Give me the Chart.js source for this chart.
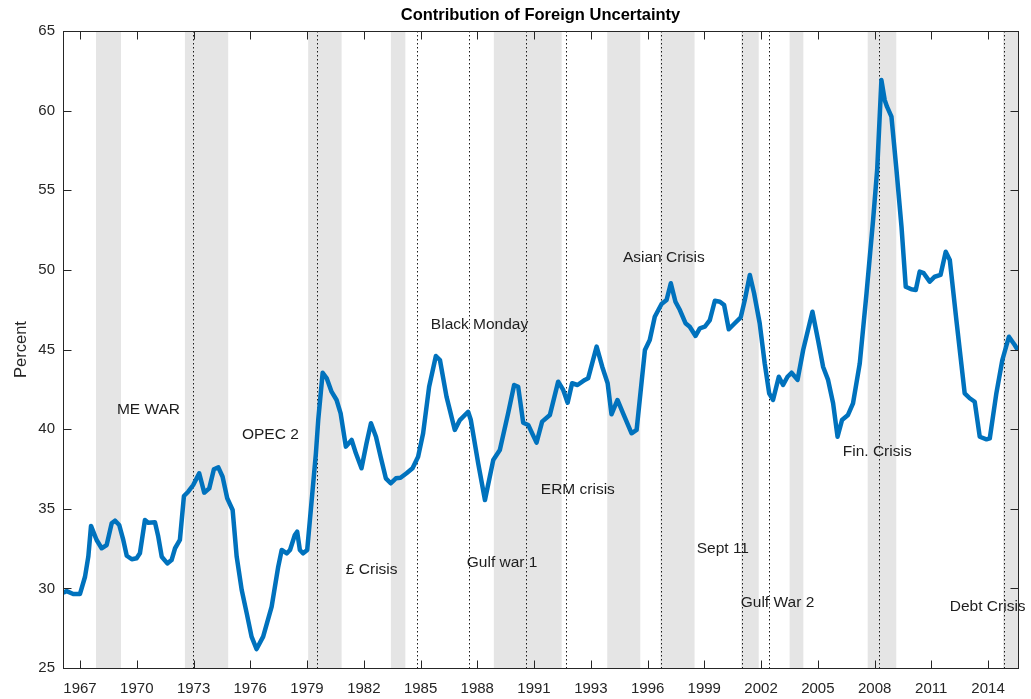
<!DOCTYPE html>
<html>
<head>
<meta charset="utf-8">
<script src="https://cdn.jsdelivr.net/npm/chart.js@4"></script>
<style>
html,body{margin:0;padding:0;background:#fff;}
#wrap{width:1031px;height:699px;}
</style>
</head>
<body>
<div id="wrap"><canvas id="c" width="1031" height="699"></canvas></div>
<script>
// ---- data ----
const years = [1966.64,1966.81,1967.15,1967.50,1967.76,1967.93,1968.07,1968.36,1968.62,1968.88,
1969.14,1969.31,1969.53,1969.74,1969.92,1970.18,1970.43,1970.60,1970.86,1971.03,
1971.38,1971.55,1971.73,1972.02,1972.24,1972.42,1972.67,1972.88,1973.10,1973.36,
1973.67,1973.93,1974.19,1974.43,1974.66,1974.88,1975.12,1975.40,1975.61,1975.87,
1976.13,1976.38,1976.64,1976.98,1977.42,1977.76,1977.94,1978.20,1978.37,1978.62,
1978.74,1978.88,1979.05,1979.26,1979.40,1979.71,1979.83,1980.06,1980.27,1980.52,
1980.78,1980.99,1981.26,1981.56,1981.78,1982.07,1982.33,1982.56,1982.82,1983.06,
1983.33,1983.58,1983.85,1984.09,1984.40,1984.71,1985.00,1985.26,1985.57,1985.92,
1986.13,1986.47,1986.90,1987.16,1987.59,1987.73,1988.11,1988.46,1988.89,1989.23,
1989.66,1989.97,1990.18,1990.44,1990.70,1991.13,1991.42,1991.82,1992.25,1992.51,
1992.74,1992.97,1993.25,1993.63,1993.80,1994.24,1994.53,1994.81,1995.01,1995.32,
1995.61,1996.05,1996.31,1996.74,1996.99,1997.25,1997.60,1997.86,1998.08,1998.32,
1998.55,1998.84,1999.06,1999.36,1999.58,1999.84,2000.10,2000.36,2000.62,2000.84,
2001.08,2001.39,2001.70,2001.91,2002.17,2002.39,2002.68,2002.94,2003.17,2003.37,
2003.67,2003.89,2004.12,2004.33,2004.64,2004.93,2005.41,2005.70,2005.96,2006.22,
2006.48,2006.71,2006.94,2007.25,2007.51,2007.86,2008.21,2008.55,2008.76,2008.98,
2009.15,2009.27,2009.50,2009.76,2010.02,2010.24,2010.53,2010.76,2010.96,2011.17,
2011.48,2011.74,2012.04,2012.31,2012.52,2012.86,2013.29,2013.55,2013.81,2014.07,
2014.42,2014.59,2014.93,2015.24,2015.58,2015.88,2016.04];

const foreignShare = [29.73,29.83,29.65,29.65,30.73,31.99,33.92,33.04,32.52,32.72,
34.09,34.25,33.98,33.04,32.05,31.83,31.89,32.20,34.29,34.12,
34.15,33.25,31.99,31.57,31.78,32.52,33.04,35.80,36.07,36.49,
37.23,36.01,36.28,37.48,37.60,37.01,35.66,34.92,31.99,29.90,
28.43,26.97,26.19,26.97,28.85,31.36,32.41,32.20,32.41,33.35,
33.56,32.41,32.20,32.41,34.29,38.48,40.57,43.54,43.19,42.35,
41.83,40.99,38.90,39.32,38.48,37.54,39.11,40.37,39.52,38.27,
36.91,36.60,36.91,36.95,37.23,37.54,38.27,39.74,42.66,44.59,
44.34,42.04,39.95,40.57,41.09,40.57,37.85,35.55,38.06,38.69,
40.99,42.77,42.66,40.40,40.26,39.15,40.47,40.89,42.98,42.46,
41.66,42.88,42.77,43.09,43.19,45.18,43.92,42.88,40.93,41.83,
40.99,39.74,39.95,44.97,45.60,47.06,47.86,48.11,49.16,48.00,
47.48,46.65,46.43,45.85,46.33,46.43,46.85,48.06,48.00,47.79,
46.27,46.65,47.02,48.11,49.68,48.53,46.65,44.13,42.25,41.83,
43.29,42.77,43.29,43.54,43.09,44.97,47.37,45.60,43.92,43.09,
41.62,39.52,40.57,40.89,41.62,44.13,48.53,53.13,56.27,61.92,
60.67,60.25,59.62,56.27,52.71,48.94,48.78,48.74,49.89,49.79,
49.26,49.57,49.68,51.14,50.62,46.85,42.25,41.94,41.72,39.52,
39.36,39.42,42.25,44.34,45.80,45.28,44.97];

const tickPos    = [1967.5,1970.44,1973.38,1976.31,1979.25,1982.19,1985.13,1988.06,1991.0,1993.94,1996.88,1999.81,2002.75,2005.69,2008.63,2011.56,2014.5];
const tickLabels = ['1967','1970','1973','1976','1979','1982','1985','1988','1991','1993','1996','1999','2002','2005','2008','2011','2014'];

const bandStart = [1968.33,1972.93,1979.31,1983.59,1988.92,1994.79,1997.54,2001.73,2004.23,2008.27,2015.28];
const bandEnd   = [1969.62,1975.17,1981.04,1984.34,1992.43,1996.50,1999.31,2002.63,2004.94,2009.75,2016.05];

const eventDates = [1973.36,1979.75,1984.95,1987.64,1990.61,1992.68,1997.55,2001.79,2003.15,2008.86,2015.31];

const annLabels = ['ME WAR','OPEC 2','£ Crisis','Black Monday','Gulf war 1','ERM crisis','Asian Crisis','Sept 11','Gulf War 2','Fin. Crisis','Debt Crisis'];
const annX      = [1969.41,1975.88,1981.26,1985.66,1987.52,1991.35,1995.60,1999.42,2001.70,2006.98,2012.52];
const annY      = [41.2,39.63,31.15,46.54,31.59,36.18,50.75,32.47,29.08,38.56,28.83];

const X_MIN = 1966.62, X_MAX = 2016.05, Y_MIN = 25, Y_MAX = 65;

// ---- styles ----
const FONT = "'Liberation Sans', Arial, Helvetica, sans-serif";
const AXIS_COLOR = '#262626';

const bgPlugin = {
  id: 'bg',
  beforeDatasetsDraw(chart) {
    const {ctx, chartArea: a, scales: {x, y}} = chart;
    ctx.save();
    ctx.beginPath();
    ctx.rect(a.left, a.top, a.right - a.left, a.bottom - a.top);
    ctx.clip();
    ctx.fillStyle = '#e5e5e5';
    for (let i = 0; i < bandStart.length; i++) {
      const x0 = x.getPixelForValue(bandStart[i]);
      const x1 = x.getPixelForValue(bandEnd[i]);
      ctx.fillRect(x0, a.top, x1 - x0, a.bottom - a.top);
    }
    ctx.strokeStyle = '#1a1a1a';
    ctx.lineWidth = 1;
    ctx.setLineDash([1.5, 2.5]);
    for (const d of eventDates) {
      const px = Math.round(x.getPixelForValue(d)) + 0.5;
      ctx.beginPath();
      ctx.moveTo(px, a.top);
      ctx.lineTo(px, a.bottom);
      ctx.stroke();
    }
    ctx.restore();
  },
  afterDatasetsDraw(chart) {
    const {ctx, chartArea: a, scales: {x, y}} = chart;
    ctx.save();
    // annotations
    ctx.fillStyle = '#1e1e1e';
    ctx.font = '15.5px ' + FONT;
    ctx.textAlign = 'left';
    ctx.textBaseline = 'middle';
    for (let i = 0; i < annLabels.length; i++) {
      ctx.fillText(annLabels[i], x.getPixelForValue(annX[i]), y.getPixelForValue(annY[i]));
    }
    // axes box with inward ticks
    ctx.strokeStyle = AXIS_COLOR;
    ctx.lineWidth = 1;
    ctx.setLineDash([]);
    const L = Math.round(a.left) + 0.5, R = Math.round(a.right) + 0.5;
    const T = Math.round(a.top) + 0.5, B = Math.round(a.bottom) + 0.5;
    ctx.strokeRect(L, T, R - L, B - T);
    const tl = 8;
    ctx.beginPath();
    for (const t of tickPos) {
      const px = Math.round(x.getPixelForValue(t)) + 0.5;
      ctx.moveTo(px, B); ctx.lineTo(px, B - tl);
      ctx.moveTo(px, T); ctx.lineTo(px, T + tl);
    }
    for (let v = Y_MIN; v <= Y_MAX; v += 5) {
      const py = Math.round(y.getPixelForValue(v)) + 0.5;
      ctx.moveTo(L, py); ctx.lineTo(L + tl, py);
      ctx.moveTo(R, py); ctx.lineTo(R - tl, py);
    }
    ctx.stroke();
    ctx.restore();
  }
};

const points = years.map((yr, i) => ({x: yr, y: foreignShare[i]}));

new Chart(document.getElementById('c'), {
  type: 'line',
  data: {
    datasets: [{
      label: 'Contribution of Foreign Uncertainty',
      data: points,
      borderColor: '#0072BD',
      borderWidth: 4.5,
      pointRadius: 0,
      tension: 0,
      borderJoinStyle: 'round',
      fill: false
    }]
  },
  options: {
    responsive: false,
    devicePixelRatio: 1,
    animation: false,
    layout: {padding: {left: 0, right: 13, top: 0, bottom: 0}},
    plugins: {
      legend: {display: false},
      tooltip: {enabled: false},
      title: {
        display: true,
        text: 'Contribution of Foreign Uncertainty',
        fullSize: false,
        color: '#000',
        font: {family: FONT, size: 16.5, weight: 'bold'},
        padding: {top: 6, bottom: 5.2}
      }
    },
    scales: {
      x: {
        type: 'linear',
        min: X_MIN,
        max: X_MAX,
        afterBuildTicks(scale) { scale.ticks = tickPos.map(v => ({value: v})); },
        afterFit(scale) { scale.height = 31; },
        grid: {display: false, drawTicks: false},
        border: {display: false},
        ticks: {
          autoSkip: false,
          maxRotation: 0,
          padding: 12,
          color: AXIS_COLOR,
          font: {family: FONT, size: 15},
          callback: (v, i) => tickLabels[i]
        }
      },
      y: {
        type: 'linear',
        min: Y_MIN,
        max: Y_MAX,
        afterFit(scale) { scale.width = 63; },
        grid: {display: false, drawTicks: false},
        border: {display: false},
        title: {
          display: true,
          text: 'Percent',
          color: AXIS_COLOR,
          font: {family: FONT, size: 16.5},
          padding: {top: 12, bottom: 0}
        },
        ticks: {
          stepSize: 5,
          padding: 8,
          color: AXIS_COLOR,
          font: {family: FONT, size: 15}
        }
      }
    }
  },
  plugins: [bgPlugin]
});
</script>
</body>
</html>
